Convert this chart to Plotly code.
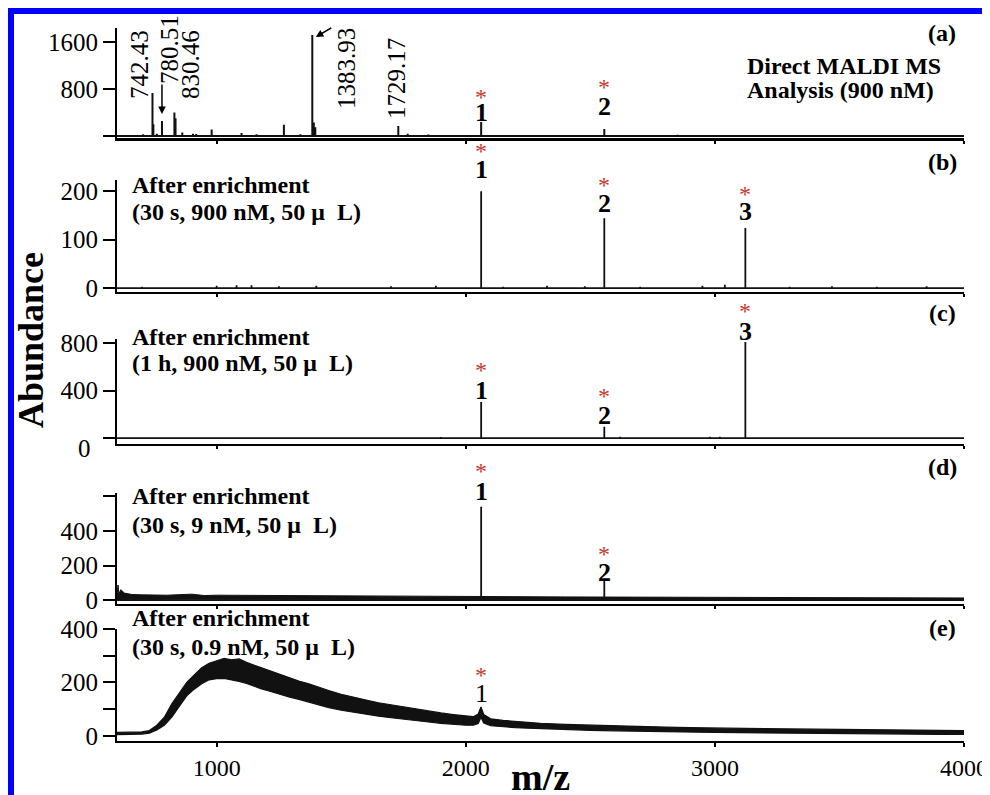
import plotly.graph_objects as go

# ---------------- data ----------------
MZ_MIN, MZ_MAX = 600, 4000
MZ_TICKS = [1000, 2000, 3000, 4000]

# (a) direct MALDI MS (stick peaks)
a_mz = [705, 742.43, 746, 760, 780.51, 830.46, 835, 862, 905, 918, 980, 1100, 1160,
        1270, 1336, 1383.93, 1390, 1396, 1729.17, 1767, 1850, 2061.8, 2556.1, 2850]
a_int = [30, 730, 200, 40, 255, 400, 300, 60, 40, 35, 110, 50, 30,
         190, 30, 1720, 230, 150, 170, 40, 25, 240, 120, 20]
a_labels = ["742.43", "780.51", "830.46", "1383.93", "1729.17"]

# (b) after enrichment 30 s, 900 nM
b_mz = [700, 1000, 1080, 1140, 1250, 1400, 1700, 1880, 2061.8, 2150, 2326, 2478, 2556.1,
        2700, 2950, 3040, 3122.3, 3300, 3470, 3650, 3850]
b_int = [3, 5, 6, 6, 4, 5, 4, 5, 200, 3, 5, 4, 144, 3, 5, 7, 124, 3, 4, 3, 4]

# (c) after enrichment 1 h, 900 nM
c_mz = [1000, 1300, 1750, 1900, 2061.8, 2556.1, 2620, 2980, 3020, 3122.3, 3400, 3700]
c_int = [5, 4, 6, 8, 303, 95, 10, 10, 12, 808, 5, 4]

# (d) after enrichment 30 s, 9 nM
d_mz = [2061.8, 2556.1]
d_int = [540, 120]
d_base_mz = [600, 604, 608, 615, 630, 660, 700, 800, 900, 950, 1000, 1200, 1400, 1600,
             1800, 2000, 2200, 2400, 2600, 2800, 3000, 3200, 3400, 3600, 3800, 4000]
d_base_hi = [30, 87, 35, 60, 40, 32, 30, 28, 34, 26, 28, 26, 25, 24, 22, 20, 19, 18, 17,
             16, 15, 15, 14, 13, 13, 12]
d_base_lo = [0, 0, 0, 2, 3, 4, 4, 4, 5, 4, 4, 4, 3, 3, 3, 3, 2, 2, 2, 2, 2, 2, 2, 2, 2, 2]

# (e) after enrichment 30 s, 0.9 nM (noisy band: lower / upper envelopes)
e_mz = [600, 650, 700, 730, 760, 790, 820, 850, 880, 910, 940, 970, 1000, 1030, 1060,
        1090, 1120, 1150, 1180, 1210, 1250, 1290, 1330, 1370, 1410, 1450, 1500, 1550,
        1600, 1650, 1700, 1750, 1800, 1850, 1900, 1950, 2000, 2030, 2050, 2061, 2072,
        2100, 2150, 2200, 2250, 2300, 2400, 2500, 2600, 2700, 2800, 2900, 3000, 3100,
        3200, 3300, 3400, 3500, 3600, 3700, 3800, 3900, 4000]
e_lo = [5, 5, 7, 10, 22, 40, 70, 110, 150, 175, 195, 210, 214, 215, 210, 204, 196, 185,
        176, 168, 156, 146, 137, 126, 116, 106, 96, 88, 80, 74, 68, 62, 57, 52, 47, 43,
        40, 40, 46, 70, 48, 38, 34, 31, 29, 27, 24, 21, 19, 17, 15, 14, 13, 12, 11, 10,
        9, 8, 8, 7, 7, 6, 6]
e_hi = [13, 13, 15, 20, 40, 70, 120, 160, 200, 228, 255, 272, 282, 290, 285, 288, 275,
        265, 255, 245, 232, 220, 205, 195, 182, 170, 156, 144, 134, 124, 116, 108, 100,
        92, 86, 80, 75, 72, 82, 108, 80, 64, 58, 54, 50, 47, 43, 40, 37, 35, 33, 31, 29,
        28, 27, 26, 25, 24, 23, 22, 21, 21, 20]

# ---------------- layout helpers ----------------
OFF = 8                      # page body margin
W, H = 990 - OFF, 795 - OFF
L_PX, R_PX = 117, 964        # plot area in window pixels
FONT = "Liberation Serif"
RED = "#c8372d"


def px_x(px):
    return (px - L_PX) / (R_PX - L_PX)


def px_y(py):
    return 1 - (py - OFF) / H


def stems(mz, inten):
    pairs = sorted(zip(mz, inten))
    xs, ys = [MZ_MIN], [0]
    for m, h in pairs:
        xs += [m, m, m]
        ys += [0, h, 0]
    xs.append(MZ_MAX)
    ys.append(0)
    return xs, ys


# panel: (bottom px, top px, y range, tickvals, ticktext)
panels = [
    (138, 28, [-34, 1838], [0, 800, 1600], ["", "800", "1600"]),
    (292, 180, [-8, 223], [0, 100, 200], ["0", "100", "200"]),
    (444, 339, [-50, 834], [0, 400, 800], ["", "400", "800"]),
    (604, 493, [-23, 620], [0, 200, 400, 600], ["0", "200", "400", ""]),
    (741, 629, [-19, 400], [0, 100, 200, 300, 400], ["0", "", "200", "", "400"]),
]

fig = go.Figure()
line_style = dict(color="#111111", width=1.8)

# (a)
xs, ys = stems(a_mz, a_int)
fig.add_trace(go.Scatter(x=xs, y=ys, mode="lines", line=dict(color="#111111", width=2),
                         xaxis="x", yaxis="y", hoverinfo="skip"))
# (b)
xs, ys = stems(b_mz, b_int)
fig.add_trace(go.Scatter(x=xs, y=ys, mode="lines", line=line_style, xaxis="x2", yaxis="y2",
                         hoverinfo="skip"))
# (c)
xs, ys = stems(c_mz, c_int)
fig.add_trace(go.Scatter(x=xs, y=ys, mode="lines", line=line_style, xaxis="x3", yaxis="y3",
                         hoverinfo="skip"))
# (d) noisy baseline band + peaks
fig.add_trace(go.Scatter(x=d_base_mz, y=d_base_lo, mode="lines", line=dict(color="#111", width=1),
                         xaxis="x4", yaxis="y4", hoverinfo="skip"))
fig.add_trace(go.Scatter(x=d_base_mz, y=d_base_hi, mode="lines", line=dict(color="#111", width=1),
                         fill="tonexty", fillcolor="#111111", xaxis="x4", yaxis="y4",
                         hoverinfo="skip"))
xs, ys = stems(d_mz, d_int)
fig.add_trace(go.Scatter(x=xs, y=ys, mode="lines", line=line_style, xaxis="x4", yaxis="y4",
                         hoverinfo="skip"))
# (e) broad hump band
fig.add_trace(go.Scatter(x=e_mz, y=e_lo, mode="lines", line=dict(color="#111", width=1.2),
                         xaxis="x5", yaxis="y5", hoverinfo="skip"))
fig.add_trace(go.Scatter(x=e_mz, y=e_hi, mode="lines", line=dict(color="#111", width=1.2),
                         fill="tonexty", fillcolor="#111111", xaxis="x5", yaxis="y5",
                         hoverinfo="skip"))

layout = dict(
    width=W, height=H,
    margin=dict(l=L_PX - OFF, r=990 - R_PX, t=0, b=0, pad=0),
    paper_bgcolor="white", plot_bgcolor="white",
    showlegend=False,
    font=dict(family=FONT, color="black", size=24),
)

for i, (bot, top, rng, tv, tt) in enumerate(panels):
    k = "" if i == 0 else str(i + 1)
    last = i == len(panels) - 1
    layout["xaxis" + k] = dict(
        domain=[0, 1], range=[MZ_MIN, MZ_MAX], anchor="y" + k,
        showline=True, linecolor="black", linewidth=3 if i == 0 else 2,
        ticks="outside", ticklen=4 if last else 3, tickwidth=2, tickcolor="black",
        tickvals=MZ_TICKS, showticklabels=last,
        tickfont=dict(family=FONT, size=24, color="black"),
        showgrid=False, zeroline=False, fixedrange=True, automargin=False,
    )
    layout["yaxis" + k] = dict(
        domain=[px_y(bot), px_y(top)], range=rng, anchor="x" + k,
        showline=True, linecolor="black", linewidth=2,
        ticks="outside", ticklen=12, tickwidth=2, tickcolor="black",
        tickvals=tv, ticktext=tt,
        tickfont=dict(family=FONT, size=25, color="black"),
        showgrid=False, zeroline=False, fixedrange=True, automargin=False,
    )

ann = []


def text(x, y, s, size=24, bold=True, xanchor="center", color="black", angle=0,
         xref="paper"):
    ann.append(dict(x=x, y=y, xref=xref, yref="paper", text=("<b>%s</b>" % s) if bold else s,
                    showarrow=False, xanchor=xanchor, yanchor="middle", textangle=angle,
                    font=dict(family=FONT, size=size, color=color)))


# panel letters
for lab, py in zip(["(a)", "(b)", "(c)", "(d)", "(e)"], [33, 162, 313, 467, 628]):
    text(px_x(942), px_y(py), lab, size=24)

# condition texts
text(px_x(745), px_y(66), "Direct MALDI MS", xanchor="left")
text(px_x(745), px_y(90), "Analysis (900 nM)", xanchor="left")
conds = [
    (185, 212, "(30 s, 900 nM, 50 μ\u00a0\u00a0L)"),
    (337, 363, "(1 h, 900 nM, 50 μ\u00a0\u00a0L)"),
    (496, 525, "(30 s, 9 nM, 50 μ\u00a0\u00a0L)"),
    (618, 647, "(30 s, 0.9 nM, 50 μ\u00a0\u00a0L)"),
]
for y1, y2, s in conds:
    text(px_x(130), px_y(y1), "After enrichment", xanchor="left")
    text(px_x(130), px_y(y2), s, xanchor="left")

# peak numbers with red asterisks: (m/z, label, star py, label py, bold)
peak_marks = [
    (2061.8, "1", 93, 112, True), (2556.1, "2", 83, 106, True),
    (2061.8, "1", 147, 169, True), (2556.1, "2", 181, 203, True), (3122.3, "3", 190, 211, True),
    (2061.8, "1", 366, 390, True), (2556.1, "2", 392, 415, True), (3122.3, "3", 307, 331, True),
    (2061.8, "1", 467, 491, True), (2556.1, "2", 550, 572, True),
    (2061.8, "1", 671, 693, False),
]
for mz, lab, sy, ly, bold in peak_marks:
    text(mz, px_y(sy + 4), "*", size=24, bold=False, color=RED, xref="x")
    text(mz, px_y(ly), lab, size=26, bold=bold, xref="x")

# panel (a) rotated m/z labels
a_label_pos = [(140, 65), (170, 50), (191, 65), (346, 69), (397, 79)]
for lab, (lx, ly) in zip(a_labels, a_label_pos):
    text(px_x(lx), px_y(ly), lab, size=25, bold=False, angle=-90)

# arrows in (a)
ann.append(dict(x=780.51, y=px_y(114), xref="x", yref="paper", text="", showarrow=True,
                ax=0, ay=-31, arrowhead=2, arrowsize=1, arrowwidth=1.5, arrowcolor="black"))
ann.append(dict(x=1398, y=px_y(37), xref="x", yref="paper", text="", showarrow=True,
                ax=17, ay=-10, arrowhead=2, arrowsize=1, arrowwidth=1.5, arrowcolor="black"))

# "0" of panel (c), sits below its tick
text(px_x(84), px_y(448), "0", size=25, bold=False)

# axis titles
text(px_x(31), px_y(340), "Abundance", size=36, angle=-90)
text(px_x(540), px_y(777), "m/z", size=38)

layout["annotations"] = ann

# blue frame (top and left edges of the figure)
layout["shapes"] = [dict(type="rect", xref="paper", yref="paper",
                         x0=px_x(11), x1=px_x(1010), y0=px_y(815), y1=px_y(11),
                         line=dict(color="#0000ff", width=6), fillcolor="rgba(0,0,0,0)",
                         layer="above")]

fig.update_layout(**layout)
fig.write_html("out.html")
